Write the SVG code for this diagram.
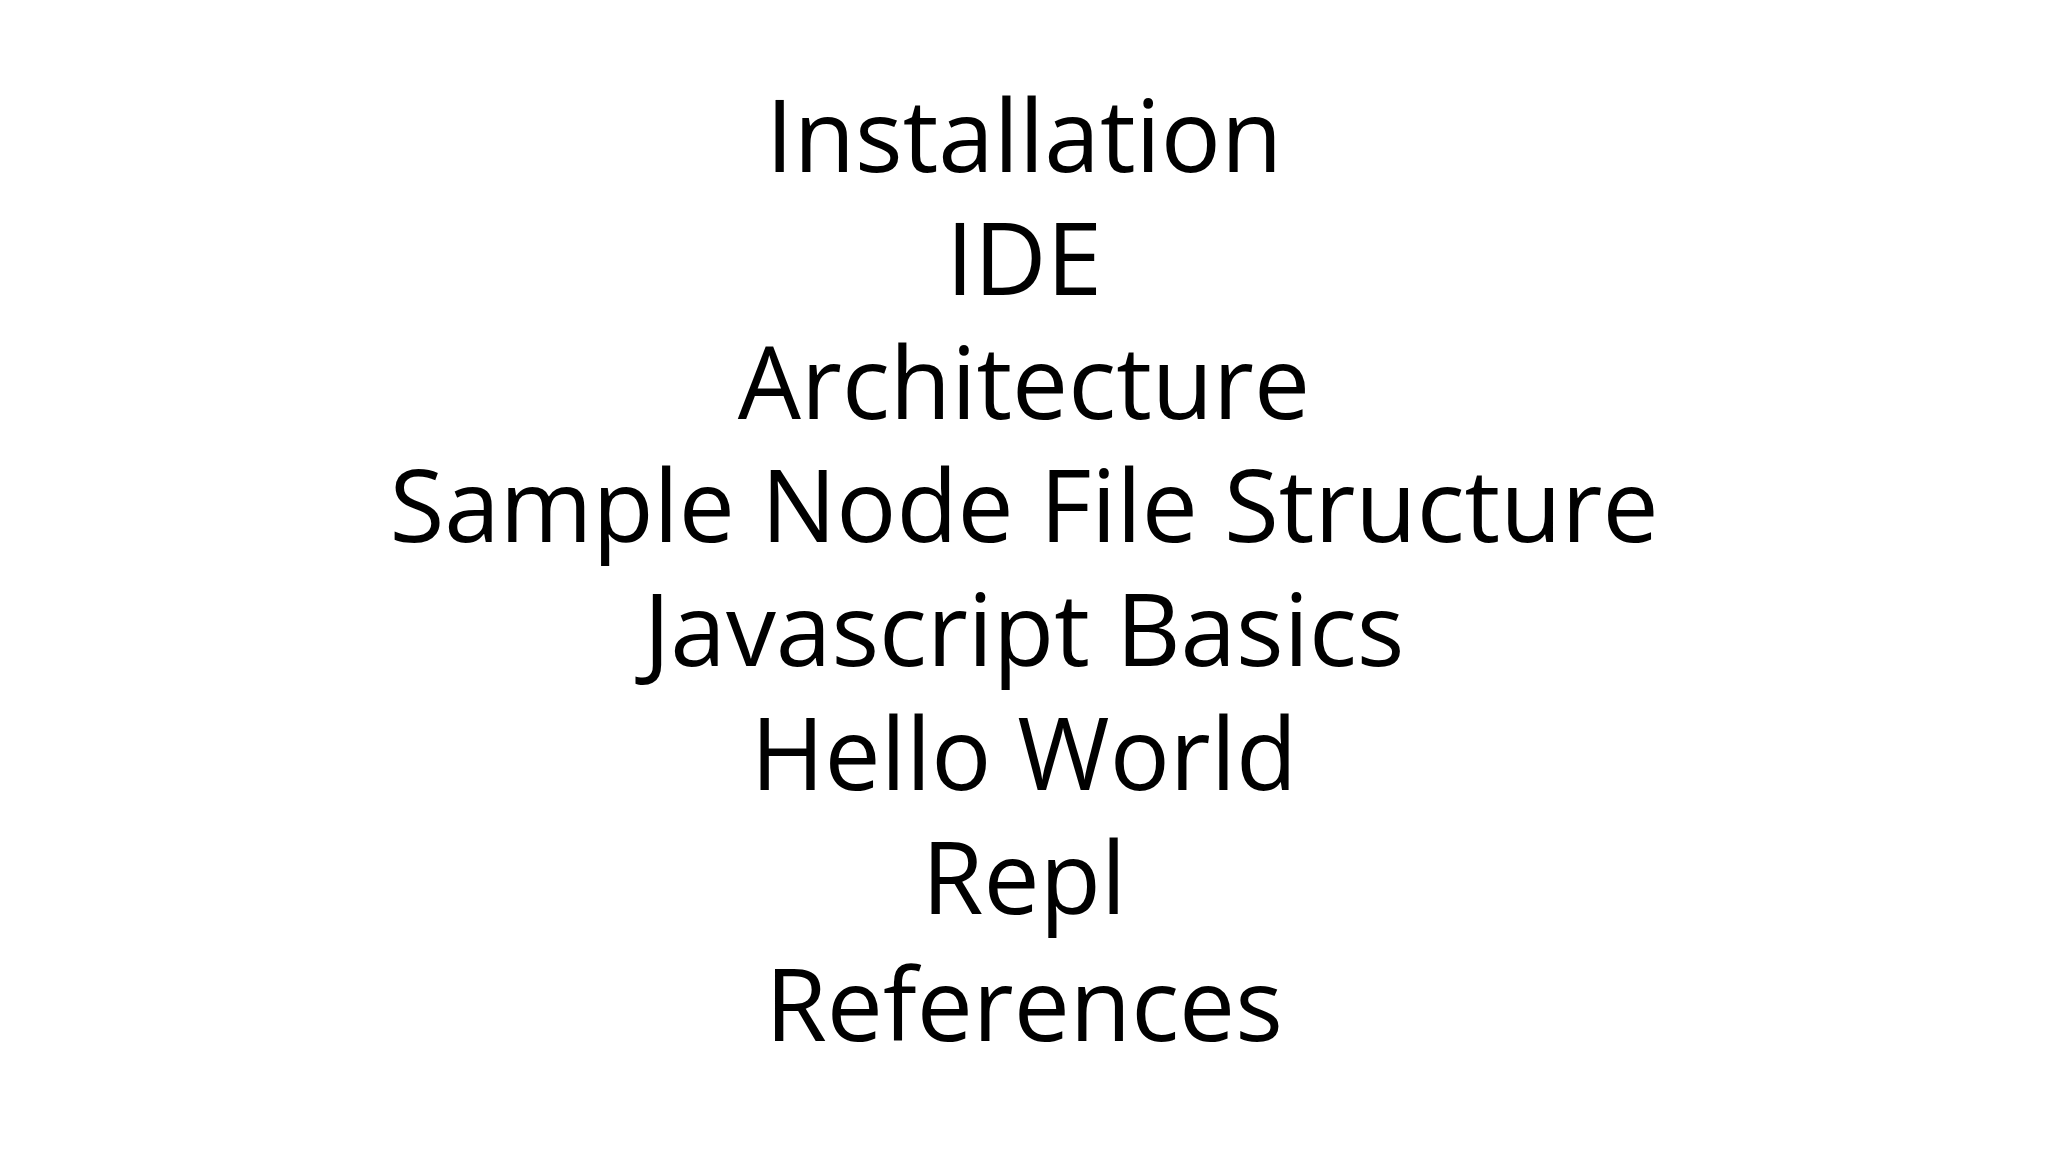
<svg xmlns="http://www.w3.org/2000/svg" width="2048" height="1152" viewBox="0 0 2048 1152">
<style>text{font-family:"Open Sans","Noto Sans",sans-serif;font-size:100px;fill:#000;text-anchor:middle}</style>
<rect width="2048" height="1152" fill="#fff"/>
<g id="items">
<text x="1024" y="172">Installation</text>
<text x="1024" y="295">IDE</text>
<text x="1024" y="419">Architecture</text>
<text x="1024" y="542">Sample Node File Structure</text>
<text x="1024" y="666">Javascript Basics</text>
<text x="1024" y="790">Hello World</text>
<text x="1024" y="914">Repl</text>
<text x="1024" y="1041">References</text>
</g>
</svg>
